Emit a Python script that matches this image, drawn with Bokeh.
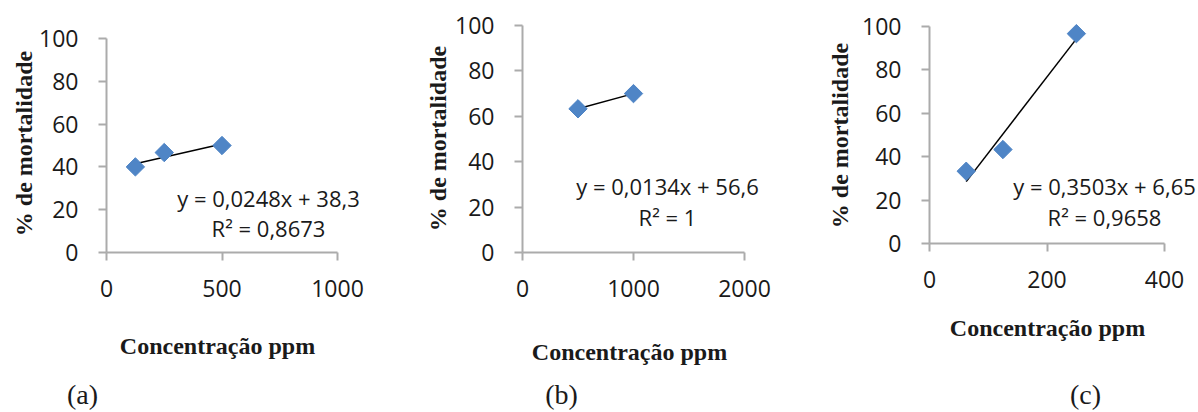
import numpy as np
from bokeh.plotting import figure
from bokeh.layouts import row
from bokeh.models import Range1d, FixedTicker, Label
from bokeh.embed import file_html
from bokeh.resources import INLINE

# ---- data ----
conc_a = [125, 250, 500]
mort_a = [40.0, 46.7, 50.0]
eq_a = ["y = 0,0248x + 38,3", "R² = 0,8673"]
xticks_a = [0, 500, 1000]

conc_b = [500, 1000]
mort_b = [63.3, 70.0]
eq_b = ["y = 0,0134x + 56,6", "R² = 1"]
xticks_b = [0, 1000, 2000]

conc_c = [62.5, 125, 250]
mort_c = [33.3, 43.3, 96.7]
eq_c = ["y = 0,3503x + 6,65", "R² = 0,9658"]
xticks_c = [0, 200, 400]

yticks = [0, 20, 40, 60, 80, 100]
panel_labels = ["(a)", "(b)", "(c)"]
x_title = "Concentração ppm"
y_title = "% de mortalidade"

MARKER = "#4F85C6"
AXIS = "#ABABAB"
TXT = "#1a1a1a"
FIG_H = 412


def make_panel(xs, ys, eq, xticks, plab, geom):
    fx0, fw = geom["fx0"], geom["fw"]
    left, right, top, bottom = geom["left"], geom["right"], geom["top"], geom["bottom"]
    xmax = xticks[-1]
    sx = xmax / (right - left)
    sy = 100 / (bottom - top)
    xr = Range1d(-(left - fx0) * sx, xmax + (fx0 + fw - right) * sx)
    yr = Range1d(-(FIG_H - bottom) * sy, 100 + top * sy)
    p = figure(output_backend="svg", toolbar_location=None, width=fw, height=FIG_H,
               min_border=0, x_range=xr, y_range=yr)
    p.background_fill_color = "white"
    p.border_fill_color = "white"
    p.outline_line_color = None
    p.grid.visible = False
    for ax, ticks, bnd in ((p.xaxis[0], xticks, (0, xmax)), (p.yaxis[0], yticks, (0, 100))):
        ax.fixed_location = 0
        ax.bounds = bnd
        ax.ticker = FixedTicker(ticks=ticks)
        ax.minor_tick_line_color = None
        ax.major_tick_in = 0
        ax.major_tick_out = 8
        ax.axis_line_color = AXIS
        ax.axis_line_width = 2
        ax.major_tick_line_color = AXIS
        ax.major_tick_line_width = 2
        ax.major_label_text_font = "Open Sans"
        ax.major_label_text_font_size = "23px"
        ax.major_label_text_color = TXT
    p.xaxis.major_label_standoff = 19
    p.yaxis.major_label_standoff = 20

    # fit line from data
    k, b = np.polyfit(xs, ys, 1)
    lx = [min(xs), max(xs)]
    p.line(lx, [k * v + b for v in lx], line_color="black", line_width=1.5)
    p.scatter(xs, ys, marker="square", angle=np.pi / 4, size=13,
              fill_color=MARKER, line_color=MARKER)

    def d(gx, gy):
        return (gx - left) * sx, (bottom - gy) * sy

    ex, ey1 = d(geom["eqx"], geom["eqy1"])
    _, ey2 = d(geom["eqx"], geom["eqy2"])
    for txt, yy in ((eq[0], ey1), (eq[1], ey2)):
        p.add_layout(Label(x=ex, y=yy, text=txt, text_align="center", text_baseline="middle",
                           text_font="Open Sans", text_font_size="22px", text_color=TXT))
    tx, ty = d(geom["ytx"], geom["yty"])
    p.add_layout(Label(x=tx, y=ty, text=y_title, angle=np.pi / 2, text_align="center",
                       text_baseline="middle", text_font="Liberation Serif",
                       text_font_style="bold", text_font_size="24px", text_color=TXT))
    xx, xy = d(geom["xtx"], geom["xty"])
    p.add_layout(Label(x=xx, y=xy, text=x_title, text_align="center",
                       text_baseline="alphabetic", text_font="Liberation Serif",
                       text_font_style="bold", text_font_size="24px", text_color=TXT))
    lx_, ly_ = d(geom["plx"], geom["ply"])
    p.add_layout(Label(x=lx_, y=ly_, text=plab, text_align="center", text_baseline="middle",
                       text_font="Liberation Serif", text_font_size="28px", text_color=TXT))
    return p


ga = dict(fx0=0, fw=400, left=106, right=337, top=38, bottom=252,
          eqx=268, eqy1=197, eqy2=227, ytx=23, yty=143, xtx=217, xty=345, plx=82, ply=394)
gb = dict(fx0=400, fw=400, left=522, right=744, top=25, bottom=252,
          eqx=667, eqy1=185, eqy2=216, ytx=437, yty=138, xtx=629, xty=351, plx=561, ply=394)
gc = dict(fx0=800, fw=398, left=929, right=1164, top=26, bottom=243,
          eqx=1104, eqy1=185, eqy2=216, ytx=839, yty=135, xtx=1047, xty=327, plx=1085, ply=394)

pa = make_panel(conc_a, mort_a, eq_a, xticks_a, panel_labels[0], ga)
pb = make_panel(conc_b, mort_b, eq_b, xticks_b, panel_labels[1], gb)
pc = make_panel(conc_c, mort_c, eq_c, xticks_c, panel_labels[2], gc)

layout = row(pa, pb, pc)
open("out.html", "w").write(file_html(layout, INLINE))
